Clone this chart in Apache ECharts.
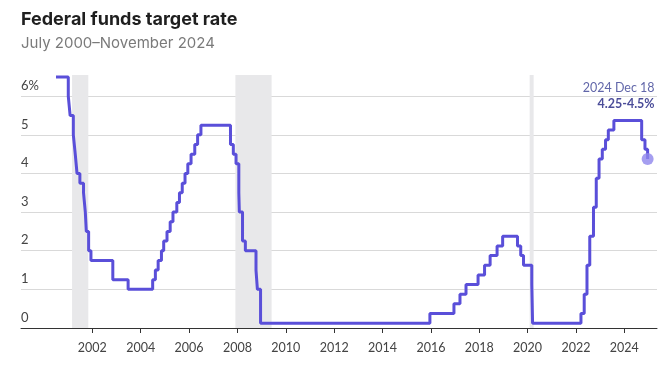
<!DOCTYPE html>
<html>
<head>
<meta charset="utf-8">
<script src="https://cdn.jsdelivr.net/npm/echarts@6/dist/echarts.min.js"></script>
<style>
html,body{margin:0;padding:0;background:#fff;}
#chart{width:669px;height:371px;}
</style>
</head>
<body>
<div id="chart"></div>
<script>
// Effective dates of target changes and the rate (midpoint of range after Dec 2008)
var changeDates = [
  '2000-07-01','2001-01-03','2001-01-31','2001-03-20','2001-04-18','2001-05-15','2001-06-27',
  '2001-08-21','2001-09-17','2001-10-02','2001-11-06','2001-12-11','2002-11-06','2003-06-25',
  '2004-06-30','2004-08-10','2004-09-21','2004-11-10','2004-12-14','2005-02-02','2005-03-22',
  '2005-05-03','2005-06-30','2005-08-09','2005-09-20','2005-11-01','2005-12-13','2006-01-31',
  '2006-03-28','2006-05-10','2006-06-29','2007-09-18','2007-10-31','2007-12-11','2008-01-22',
  '2008-01-30','2008-03-18','2008-04-30','2008-10-08','2008-10-29','2008-12-16','2015-12-17',
  '2016-12-15','2017-03-16','2017-06-15','2017-12-14','2018-03-22','2018-06-14','2018-09-27',
  '2018-12-20','2019-08-01','2019-09-19','2019-10-31','2020-03-04','2020-03-16','2022-03-17',
  '2022-05-05','2022-06-16','2022-07-28','2022-09-22','2022-11-03','2022-12-15','2023-02-02',
  '2023-03-23','2023-05-04','2023-07-27','2024-09-19','2024-11-08','2024-12-18'
];
var rates = [
  6.5,6.0,5.5,5.0,4.5,4.0,3.75,
  3.5,3.0,2.5,2.0,1.75,1.25,1.0,
  1.25,1.5,1.75,2.0,2.25,2.5,2.75,
  3.0,3.25,3.5,3.75,4.0,4.25,4.5,
  4.75,5.0,5.25,4.75,4.5,4.25,3.5,
  3.0,2.25,2.0,1.5,1.0,0.125,0.375,
  0.625,0.875,1.125,1.375,1.625,1.875,2.125,
  2.375,2.125,1.875,1.625,1.125,0.125,0.375,
  0.875,1.625,2.375,3.125,3.875,4.375,4.625,
  4.875,5.125,5.375,4.875,4.625,4.375
];
var recessions = [
  ['2001-03-01','2001-11-01'],
  ['2007-12-01','2009-06-01'],
  ['2020-02-01','2020-04-01']
];
var yearTicks = [2002,2004,2006,2008,2010,2012,2014,2016,2018,2020,2022,2024];
var yTicks = [0,1,2,3,4,5,6];
var lastLabelDate = '2024 Dec 18';
var lastLabelValue = '4.25-4.5%';

function toYear(s){
  var p = s.split('-').map(Number);
  var start = Date.UTC(p[0],0,1), end = Date.UTC(p[0]+1,0,1);
  return p[0] + (Date.UTC(p[0],p[1]-1,p[2]) - start)/(end - start);
}
var lineData = changeDates.map(function(d,i){ return [toYear(d), rates[i]]; });
var lastPoint = lineData[lineData.length-1];

var chart = echarts.init(document.getElementById('chart'));
var font = 'Lato, "Open Sans", sans-serif';
var tfont = 'Inter, Lato, sans-serif';
chart.setOption({
  animation:false,
  textStyle:{fontFamily:font},
  title:{
    text:'Federal funds target rate',
    subtext:'July 2000\u2013November 2024',
    left:16, top:6, itemGap:7,
    textStyle:{fontFamily:tfont, fontSize:18, fontWeight:'bold', color:'#1f1f1f'},
    subtextStyle:{fontFamily:tfont, fontSize:15, color:'#7a7a7a'}
  },
  grid:{left:21, right:12, top:75, bottom:43},
  xAxis:{
    type:'value', min:1999.05, max:2025.35,
    axisLine:{show:true, lineStyle:{color:'#333', width:1}},
    axisTick:{show:true, length:5, lineStyle:{color:'#333'}, customValues:yearTicks},
    axisLabel:{customValues:yearTicks, color:'#444', fontSize:12.5, margin:13, fontFamily:font,
      formatter:function(v){ return String(v); }},
    splitLine:{show:false}
  },
  yAxis:{
    type:'value', min:0, max:6.55, interval:1,
    axisLine:{show:false}, axisTick:{show:false},
    axisLabel:{inside:true, margin:0, showMaxLabel:false, verticalAlign:'bottom', padding:[0,0,4,0],
      color:'#444', fontSize:13, fontFamily:font,
      formatter:function(v){ return v===6 ? '6%' : String(v); }},
    splitLine:{show:true, showMaxLine:false, lineStyle:{color:'#d9d9d9', width:1}}
  },
  series:[
    {
      type:'line', step:'end', data:lineData, showSymbol:false, clip:false,
      lineStyle:{color:'#5a4fd9', width:3},
      z:3,
      markArea:{silent:true, itemStyle:{color:'#e8e8ea'},
        data:recessions.map(function(r){ return [{xAxis:toYear(r[0])},{xAxis:toYear(r[1])}]; })}
    },
    {
      type:'scatter', data:[lastPoint], symbolSize:12, z:4,
      itemStyle:{color:'#8e86ec'},
      label:{show:true, position:'top', align:'right', offset:[7,-36],
        formatter:'{a|'+lastLabelDate+'}\n{b|'+lastLabelValue+'}',
        rich:{a:{color:'#3a4094', fontSize:12.5, lineHeight:16, fontFamily:font, align:'right'},
              b:{color:'#1e2180', fontSize:12.5, fontWeight:'bold', lineHeight:16, fontFamily:font, align:'right'}}}
    }
  ]
});
</script>
</body>
</html>
